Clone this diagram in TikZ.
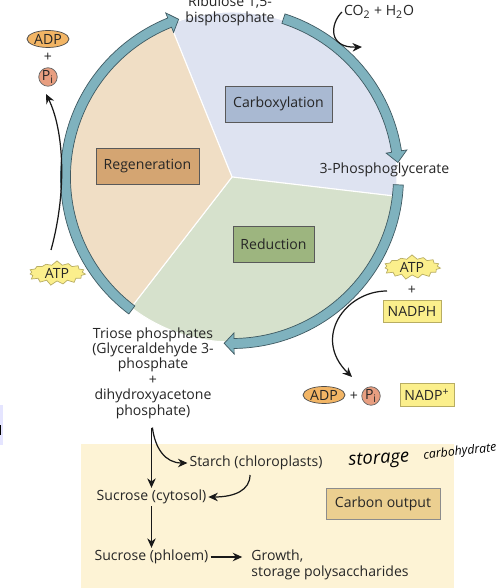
\documentclass[tikz,border=0pt]{standalone}
\usepackage{fontspec}
\setmainfont{Open Sans}
\usetikzlibrary{arrows.meta,shapes.geometric,shapes.symbols}
\definecolor{rimteal}{HTML}{7FB2BE}
\definecolor{rimedge}{HTML}{3F5A62}
\definecolor{wedgeblue}{HTML}{DEE3F1}
\definecolor{wedgegreen}{HTML}{D6E1CC}
\definecolor{wedgepeach}{HTML}{F0DEC5}
\definecolor{panelcream}{HTML}{FDF3D5}
\definecolor{cofactor}{HTML}{FBEF8C}
\definecolor{cofedge}{HTML}{B8AD62}
\definecolor{carboxfill}{HTML}{A9B9D2}
\definecolor{regenfill}{HTML}{D4A572}
\definecolor{reductfill}{HTML}{9DB57F}
\definecolor{outputfill}{HTML}{EBCF90}
\definecolor{adpfill}{HTML}{F2B565}
\definecolor{pifill}{HTML}{E89E80}
\definecolor{inktext}{HTML}{262626}
\newcommand{\ringarrow}[3]{%
  \draw[ring,shift={(hub)}] (#1:171.5) arc[start angle=#1,end angle=#2,radius=171.5] -- (#2:177)
    -- (#3:166.5) -- (#2:156) -- (#2:161.5) arc[start angle=#2,end angle=#1,radius=161.5] -- cycle;}
\begin{document}
\begin{tikzpicture}[
  x=0.02cm, y=0.02cm, font=\fontsize{8}{8.75}\selectfont, text=inktext,
  >={Stealth[length=1.9mm,width=1.7mm]},
  ring/.style={fill=rimteal, draw=rimedge, line width=0.4pt},
  wedge/.style={draw=white, line width=0.6pt},
  phase/.style={rectangle, draw=black!65, line width=0.5pt, align=center, inner sep=0pt},
  txt/.style={align=center, inner sep=1pt},
  cof/.style={rectangle, draw=cofedge, fill=cofactor, line width=0.5pt, inner sep=0pt},
  burst/.style={starburst, starburst points=15, starburst point height=2.6pt, random starburst=7,
                minimum width=1.2cm, minimum height=0.5cm,
                draw=cofedge, fill=cofactor, line width=0.4pt, inner sep=0pt},
  adpnode/.style={ellipse, draw=black!70, fill=adpfill, line width=0.4pt,
                  minimum width=0.84cm, minimum height=0.34cm, inner sep=0pt},
  pinode/.style={circle, draw=black!60, fill=pifill, line width=0.4pt,
                 minimum size=0.37cm, inner sep=0pt},
  hand/.style={inner sep=0pt, text=black},
  e/.style={->, line width=0.7pt, draw=black!90},
]
\clip (0,0) rectangle (502,588);
\fill[white] (0,0) rectangle (502,588);
\coordinate (hub) at (232,411);
% stray strip at the left edge
\fill[blue!10] (0,143) rectangle (3,183);
\fill[black] (0,153) rectangle (1,163);
\fill[panelcream] (81,0) rectangle (454,144);
% wedges
\filldraw[wedge,fill=wedgeblue] (hub) -- ++(112:165) arc[start angle=112,end angle=-6.7,radius=165] -- cycle;
\filldraw[wedge,fill=wedgegreen] (hub) -- ++(-6.7:165) arc[start angle=-6.7,end angle=-127.7,radius=165] -- cycle;
\filldraw[wedge,fill=wedgepeach] (hub) -- ++(232.3:165) arc[start angle=232.3,end angle=112,radius=165] -- cycle;
% ring
\ringarrow{233}{112}{108.7}
\ringarrow{72}{8.8}{5}
\ringarrow{-2.7}{-89.3}{-92.7}
% phases
\node[phase,fill=carboxfill,minimum width=2.14cm,minimum height=0.72cm] (carbox) at (278.5,484) {Carboxylation};
\node[phase,fill=regenfill,minimum width=2.06cm,minimum height=0.72cm] (regen) at (147.5,422) {Regeneration};
\node[phase,fill=reductfill,minimum width=1.62cm,minimum height=0.72cm] (reduct) at (273.5,344) {Reduction};
\node[phase,draw=black!45,fill=outputfill,minimum width=2.28cm,minimum height=0.62cm] (output) at (383,84.5) {Carbon output};
% labels on the ring
\node[txt] (rubp) at (230,577) {Ribulose 1,5-\\bisphosphate};
\node[txt] (pga) at (384.5,418) {3-Phosphoglycerate};
\node[txt] (co2) at (379,576) {CO\textsubscript{2} + H\textsubscript{2}O};
\coordinate (co2end) at (362,541);
\node[txt] (triose) at (153,215) {Triose phosphates\\(Glyceraldehyde 3-\\phosphate\\+\\dihydroxyacetone\\phosphate)};
% left cofactors
\node[burst] (atpl) at (57,315) {ATP};
\coordinate (atptail) at (51,338);
\node[adpnode] (adpl) at (48,549) {ADP};
\node[txt] (plusl) at (48,531) {+};
\node[pinode] (pil) at (48,511) {P\textsubscript{i}};
\coordinate (pitip) at (46,494);
% right cofactors
\node[burst] (atpr) at (412,321) {ATP};
\node[txt] (plusr) at (412,298) {+};
\node[cof,minimum width=1.16cm,minimum height=0.44cm] (nadph) at (412,277) {NADPH};
\coordinate (nadtail) at (387,297);
\coordinate (nadtip) at (352,211);
\node[adpnode] (adpr) at (324,193) {ADP};
\node[txt] (plusb) at (354,192) {+};
\node[pinode] (pir) at (371,192) {P\textsubscript{i}};
\node[cof,minimum width=1.08cm,minimum height=0.46cm] (nadp) at (427,193) {NADP\textsuperscript{+}};
% carbon output
\node[txt] (starch) at (256,125) {Starch (chloroplasts)};
\node[txt] (succ) at (151.5,91) {Sucrose (cytosol)};
\node[txt] (sucp) at (151.5,31) {Sucrose (phloem)};
\node[txt,align=left] (growth) at (330,23) {Growth,\\storage polysaccharides};
\node[hand,rotate=4,font=\fontsize{10.5}{12}\selectfont\itshape] (store) at (379,128) {storage};
\node[hand,rotate=6,font=\fontsize{7}{8}\selectfont\itshape] (carbo) at (460,136) {carbohydrate};

\draw[e] (atptail) .. controls (68,400) and (63,460) .. (pitip);
\draw[e] (co2.west) .. controls (330,564) and (328,540) .. (co2end);
\draw[e] (nadtail) .. controls (345,297) and (312,250) .. (nadtip);
\draw[e,shorten <=4pt] (triose.south-|succ.north) -- (succ.north);
\draw[e,shorten <=4pt] (triose.south-|succ.north) .. controls (155,140) and (165,125) .. (starch.west);
\draw[e] (250,113) .. controls (250,98) and (235,91) .. (succ.east);
\draw[e] (succ) -- (sucp);
\draw[e,shorten >=4pt] (sucp) -- (growth.west|-sucp);
\end{tikzpicture}
\end{document}
